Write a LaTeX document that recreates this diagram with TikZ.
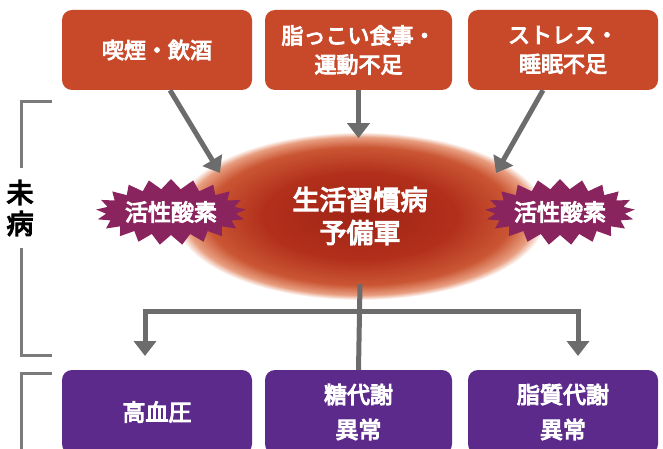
\documentclass[tikz,border=0pt]{standalone}
\usepackage{fontspec}
\setmainfont{Noto Sans CJK JP}
\newfontfamily\jpbold{Noto Sans CJK JP}[FakeBold=4.5]
\usetikzlibrary{shapes.geometric,shapes.symbols,arrows.meta}
\definecolor{cause}{RGB}{200,72,42}
\definecolor{illness}{RGB}{92,42,138}
\definecolor{oxy}{RGB}{138,36,94}
\definecolor{arrowgray}{RGB}{108,108,108}
\definecolor{shA}{RGB}{160,36,22}
\definecolor{shB}{RGB}{178,48,27}
\definecolor{shC}{RGB}{202,86,52}
\definecolor{shD}{RGB}{232,158,128}
\pgfdeclareradialshading{yobigun}{\pgfpoint{0bp}{0bp}}{color(0bp)=(shA); color(13bp)=(shB); color(20.5bp)=(shC); color(23.5bp)=(shD); color(25bp)=(white); color(50bp)=(white)}

\begin{document}
\begin{tikzpicture}[x=1pt,y=-1pt,
   causebox/.style={fill=cause,rounded corners=10pt,minimum width=190pt,minimum height=80pt,text=white,align=center,font=\fontsize{22}{29}\selectfont\jpbold},
   illbox/.style={causebox,fill=illness,minimum height=84pt,font=\fontsize{23}{35}\selectfont\jpbold},
   burst/.style={starburst,starburst points=21,starburst point height=10pt,random starburst=0,fill=oxy,minimum width=148pt,minimum height=66pt,inner sep=0pt,text=white,font=\fontsize{23}{26}\selectfont\jpbold},
   arr/.style={draw=arrowgray,line width=5pt,-{Triangle[width=22pt,length=15pt]}},
   bracket/.style={draw=arrowgray!90,line width=3pt}]
   \useasboundingbox (0,0) rectangle (663,449);
   \clip (0,0) rectangle (663,449);

   \node[ellipse,minimum width=372pt,minimum height=168pt,shading=yobigun,shade,text=white,align=center,font=\fontsize{27}{33}\selectfont\jpbold] (pre) at (360,216) {生活習慣病\\予備軍};

   \node[causebox] (smoke) at (157,50) {喫煙・飲酒};
   \node[causebox,minimum width=187pt] (diet) at (358.5,50) {脂っこい食事・\\運動不足};
   \node[causebox] (stress) at (563,50) {ストレス・\\睡眠不足};

   \coordinate (lt) at (220,173);
   \coordinate (rt) at (496,173);
   \draw[arr] ([xshift=13pt]smoke.south) -- (lt);
   \draw[arr] (diet.south) -- ++(0,48);
   \draw[arr] ([xshift=-20pt]stress.south) -- (rt);

   \node[burst] (oxyL) at (171,212) {活性酸素};
   \node[burst] (oxyR) at (560,212) {活性酸素};

   \node[illbox] (hbp) at (157,412) {高血圧};
   \node[illbox,minimum width=187pt] (sugar) at (358.5,412) {糖代謝\\異常};
   \node[illbox] (lipid) at (563,412) {脂質代謝\\異常};

   \coordinate (fork) at (358.5,311);
   \coordinate (bl) at (145,356);
   \coordinate (br) at (578,356);
   \draw[draw=arrowgray,line width=5pt] ([yshift=16pt]pre.south) -- (sugar.north);
   \draw[arr] (fork) -| (bl);
   \draw[arr] (fork) -| (br);

   \node[align=center,inner sep=12pt,font=\fontsize{27}{31}\selectfont\jpbold] (mibyo) at (20,208) {未\\病};
   \draw[bracket] (mibyo.north-|21,0) |- (52,102);
   \draw[bracket] (mibyo.south-|21,0) |- (52,355);
   \draw[bracket] (21,460) |- (52,373);
\end{tikzpicture}
\end{document}
